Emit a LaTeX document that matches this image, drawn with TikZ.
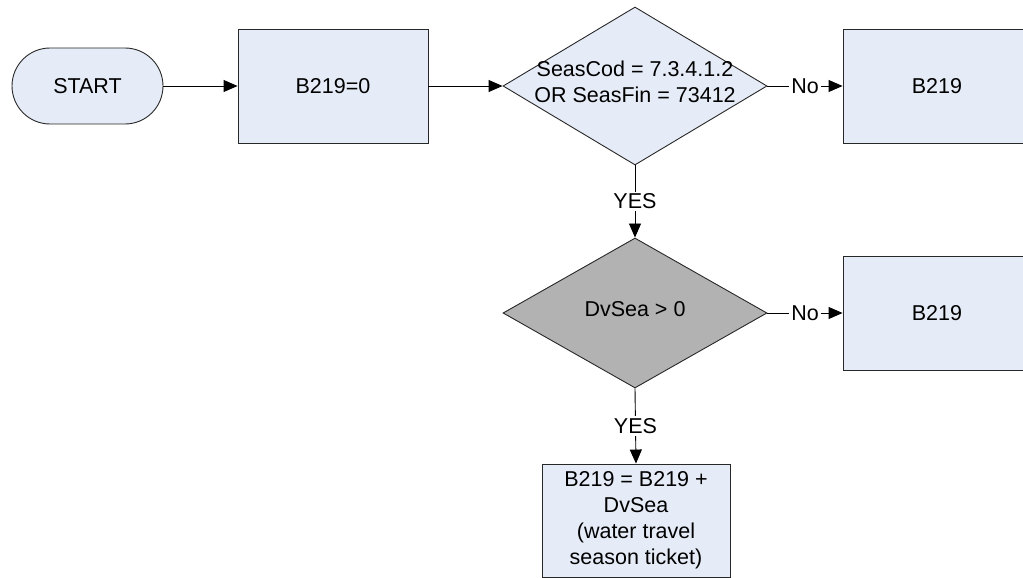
\documentclass[tikz,border=0pt]{standalone}
\usepackage{fontspec}
\setmainfont{Liberation Sans}
\usetikzlibrary{shapes.geometric,arrows.meta}
\definecolor{boxfill}{RGB}{230,236,247}
\definecolor{decgray}{RGB}{178,178,178}
\definecolor{edgecol}{RGB}{40,40,40}
\newcommand\dtext[1]{\makebox[0pt]{\smash{\raisebox{-3pt}{\begin{tabular}{@{}c@{}}#1\end{tabular}}}}}
\begin{document}
\begin{tikzpicture}[x=1pt,y=-1pt,
  font=\fontsize{21.5}{26}\selectfont,
  proc/.style={draw=edgecol, fill=boxfill, line width=0.9pt, minimum width=190pt, minimum height=114pt, inner sep=0pt, align=center},
  term/.style={draw=edgecol, fill=boxfill, line width=0.9pt, rounded corners=38pt, minimum width=151pt, minimum height=76pt, inner sep=0pt},
  dec/.style={diamond, draw=edgecol, fill=boxfill, line width=0.9pt, minimum width=264pt, minimum height=158pt, inner sep=0pt},
  arr/.style={-{Triangle[length=14pt,width=12pt]}, line width=0.9pt},
  lbl/.style={fill=white, inner sep=2pt}]
\useasboundingbox (0,0) rectangle (1023,578);
\node[term] (start) at (87.5,86) {START};
\node[proc] (b0) at (333,86) {B219=0};
\node[dec] (d1) at (635,86) {\dtext{SeasCod = 7.3.4.1.2\\OR SeasFin = 73412}};
\node[proc, minimum width=188pt] (b1) at (937,86) {B219};
\node[dec, fill=decgray, minimum height=150pt] (d2) at (635,313) {\dtext{DvSea > 0}};
\node[proc, minimum width=188pt] (b2) at (937,313) {B219};
\node[proc, minimum width=188pt, minimum height=113pt] (b3) at (636,520.5) {B219 = B219 +\\DvSea\\(water travel\\season ticket)};
\draw[arr] (start) -- (b0);
\draw[arr] (b0) -- (d1);
\draw[arr] (d1) -- node[lbl]{No} (b1);
\draw[arr] (d1) -- node[lbl]{YES} (d2);
\draw[arr] (d2) -- node[lbl]{No} (b2);
\draw[arr] (d2.south) -- node[lbl]{YES} (b3.north);
\end{tikzpicture}
\end{document}
